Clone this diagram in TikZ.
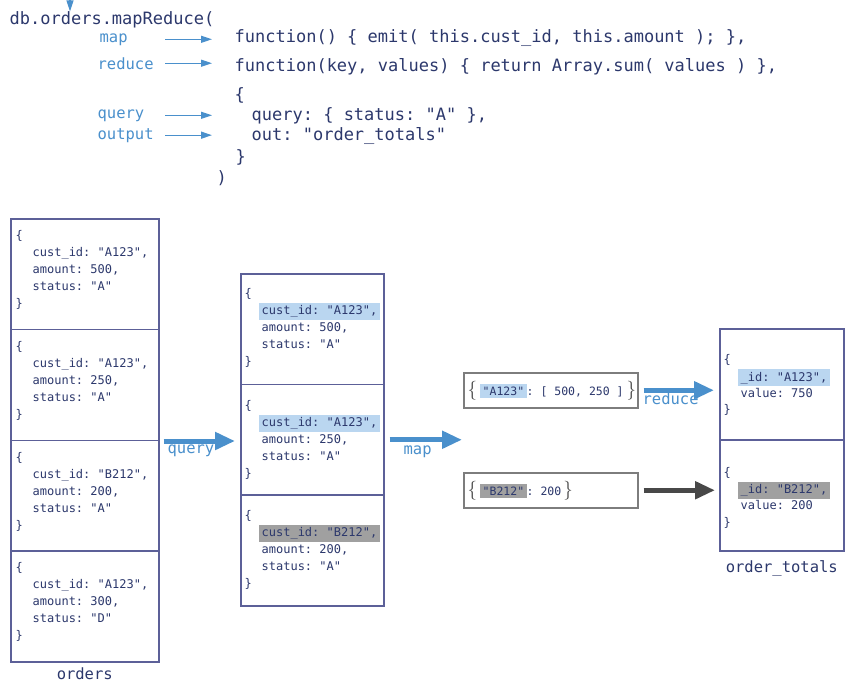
\documentclass[tikz,border=0pt]{standalone}
\usepackage{fontspec}
\setmonofont{DejaVu Sans Mono}
\usetikzlibrary{arrows.meta, positioning}
\definecolor{codeblue}{RGB}{44,56,108}
\definecolor{labelblue}{RGB}{74,144,204}
\definecolor{boxline}{RGB}{92,96,152}
\definecolor{hlblue}{RGB}{186,214,240}
\definecolor{hlgray}{RGB}{160,160,160}
\definecolor{mapgray}{RGB}{125,125,125}
\definecolor{darkarrow}{RGB}{72,72,72}
\tikzset{every picture/.style={line width=1.3pt}}
\newcommand{\hlb}[1]{{\setlength{\fboxsep}{2.5pt}\hspace*{-2.5pt}\colorbox{hlblue}{#1}}}
\newcommand{\hlg}[1]{{\setlength{\fboxsep}{2.5pt}\hspace*{-2.5pt}\colorbox{hlgray}{#1}}}
\newcommand{\kvhl}[2]{{\setlength{\fboxsep}{2.5pt}\colorbox{#1}{#2}}}
\newcommand{\ind}{\hspace*{17pt}}
\newcommand{\brc}[1]{{\rmfamily\fontsize{19}{19}\selectfont\color{darkarrow}#1}}

\begin{document}
\begin{tikzpicture}[x=1pt, y=-1pt,
    code/.style={font=\ttfamily\fontsize{17}{20}\selectfont, text=codeblue, inner sep=0, anchor=base west},
    lbl/.style={font=\ttfamily\fontsize{15.5}{18}\selectfont, text=labelblue, inner sep=0, anchor=base west},
    cell/.style={draw=boxline, line width=1.5pt, anchor=north west, inner sep=0, minimum width=#1},
    doc/.style={font=\ttfamily\fontsize{12}{17}\selectfont, text=codeblue, align=left, inner sep=0},
    docsm/.style={font=\ttfamily\fontsize{12}{16.3}\selectfont, text=codeblue, align=left, inner sep=0},
    kvbox/.style={draw=mapgray, line width=1.5pt, minimum height=35pt, minimum width=174pt, inner sep=0, anchor=north west},
    kvtext/.style={font=\ttfamily\fontsize{11.5}{14}\selectfont, text=codeblue, inner sep=0, anchor=west},
    bigarrow/.style={-{Triangle[length=20pt,width=17pt]}, line width=5pt, draw=labelblue},
    thinarrow/.style={-{Triangle[length=11pt,width=7pt]}, line width=1.3pt, draw=labelblue}]
  \fill[white] (0,0) rectangle (850,685);
  \useasboundingbox (0,0) rectangle (850,685);

  % the call
  \node[code] (call) at (9,25) {db.orders.mapReduce(};
  \node[code] (fmap) at (234,43) {function() \{ emit( this.cust\_id, this.amount ); \},};
  \node[code] (freduce) at (234,71) {function(key, values) \{ return Array.sum( values ) \},};
  \node[code] (obrace) at (234,100) {\{};
  \node[code] (fquery) at (251,120) {query: \{ status: "A" \},};
  \node[code] (fout) at (251,140) {out: "order\_totals"};
  \node[code] (cbrace) at (235,162) {\}};
  \node[code] (cparen) at (216,183) {)};

  \node[lbl] (lmap) at (99,42) {map};
  \node[lbl] (lreduce) at (97,69) {reduce};
  \node[lbl] (lquery) at (97,118) {query};
  \node[lbl] (loutput) at (97,139) {output};

  \coordinate (tailcol) at (165,0);
  \coordinate (tipcol) at (212,0);
  \coordinate (topin) at (70,-15);
  \draw[thinarrow] (topin) -- (call.north -| topin);
  \draw[thinarrow] (tailcol |- lmap.center) -- (tipcol |- lmap.center);
  \draw[thinarrow] (tailcol |- lreduce.center) -- (tipcol |- lreduce.center);
  \draw[thinarrow] (tailcol |- lquery.center) -- (tipcol |- lquery.center);
  \draw[thinarrow] (tailcol |- loutput.center) -- (tipcol |- loutput.center);

  % orders
  \node[cell=148pt, minimum height=110.75pt] (o1) at (10,218) {};
  \node[cell=148pt, minimum height=110.75pt] (o2) at (10,328.75) {};
  \node[cell=148pt, minimum height=110.75pt] (o3) at (10,439.5) {};
  \node[cell=148pt, minimum height=110.75pt] (o4) at (10,550.25) {};
  \node[doc, below right=9pt and 5pt of o1.north west] (d1) {\strut\{\\ \ind cust\_id: "A123",\\ \ind amount: 500,\\ \ind status: "A"\\ \}};
  \node[doc, below right=9pt and 5pt of o2.north west] (d2) {\strut\{\\ \ind cust\_id: "A123",\\ \ind amount: 250,\\ \ind status: "A"\\ \}};
  \node[doc, below right=9pt and 5pt of o3.north west] (d3) {\strut\{\\ \ind cust\_id: "B212",\\ \ind amount: 200,\\ \ind status: "A"\\ \}};
  \node[doc, below right=9pt and 5pt of o4.north west] (d4) {\strut\{\\ \ind cust\_id: "A123",\\ \ind amount: 300,\\ \ind status: "D"\\ \}};
  \node[font=\ttfamily\fontsize{15.5}{18}\selectfont, text=codeblue, inner sep=0, below=5pt of o4] (lorders) {orders};

  % query result
  \node[cell=143pt, minimum height=110.67pt] (m1) at (240,273) {};
  \node[cell=143pt, minimum height=110.67pt] (m2) at (240,383.67) {};
  \node[cell=143pt, minimum height=110.67pt] (m3) at (240,494.33) {};
  \node[doc, below right=12pt and 4pt of m1.north west] (q1) {\strut\{\\ \ind\hlb{cust\_id: "A123",}\\ \ind amount: 500,\\ \ind status: "A"\\ \}};
  \node[doc, below right=13pt and 4pt of m2.north west] (q2) {\strut\{\\ \ind\hlb{cust\_id: "A123",}\\ \ind amount: 250,\\ \ind status: "A"\\ \}};
  \node[doc, below right=13pt and 4pt of m3.north west] (q3) {\strut\{\\ \ind\hlg{cust\_id: "B212",}\\ \ind amount: 200,\\ \ind status: "A"\\ \}};

  % map output
  \node[kvbox] (k1) at (463,372) {};
  \node[kvbox] (k2) at (463,472) {};
  \node[kvtext, right=4pt of k1.west] (kv1) {\brc{\{}\hspace{3pt}\kvhl{hlblue}{"A123"}: [ 500, 250 ]\hspace{3pt}\brc{\}}};
  \node[kvtext, right=4pt of k2.west] (kv2) {\brc{\{}\hspace{3pt}\kvhl{hlgray}{"B212"}: 200\hspace{2pt}\brc{\}}};

  % order_totals
  \node[cell=124pt, minimum height=111pt] (t1) at (719,328) {};
  \node[cell=124pt, minimum height=111pt] (t2) at (719,439) {};
  \node[docsm, below right=23.5pt and 4pt of t1.north west] (r1) {\strut\{\\ \ind\hlb{\_id: "A123",}\\ \ind value: 750\\ \}};
  \node[docsm, below right=25pt and 4pt of t2.north west] (r2) {\strut\{\\ \ind\hlg{\_id: "B212",}\\ \ind value: 200\\ \}};
  \node[font=\ttfamily\fontsize{15.5}{18}\selectfont, text=codeblue, inner sep=0, below=8pt of t2] (ltotals) {order\_totals};

  % stages
  \draw[bigarrow, shorten <=4pt, shorten >=5pt] (o2.south east) -- (o2.south east -| m2.west);
  \draw[bigarrow, shorten <=5pt, shorten >=1pt] (m2.east) -- (m2.east -| k1.west);
  \draw[bigarrow, shorten <=5pt, shorten >=5pt] (k1.east) -- (k1.east -| t1.west);
  \draw[bigarrow, draw=darkarrow, shorten <=5pt, shorten >=4pt] (k2.east) -- (k2.east -| t2.west);
  \node[lbl] (tquery) at (167,453) {query};
  \node[lbl] (tmap) at (403,454) {map};
  \node[lbl] (treduce) at (642,404) {reduce};
\end{tikzpicture}
\end{document}
